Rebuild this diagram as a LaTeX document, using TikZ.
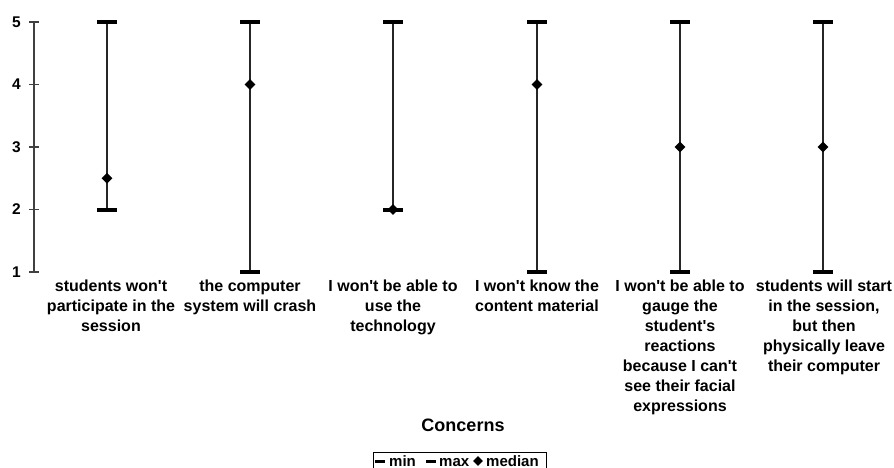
\documentclass[tikz,border=0pt]{standalone}
\usepackage{fontspec}
\setmainfont{Liberation Sans}
\newfontfamily\lsans{Liberation Sans}
\usetikzlibrary{shapes.geometric}
\begin{document}
\begin{tikzpicture}[x=1pt,y=-1pt,
  axisline/.style={draw=black!75, line width=1.4pt},
  barline/.style={draw=black!85, line width=1.4pt},
  capline/.style={draw=black, line width=4pt},
  med/.style={diamond, fill=black, draw=none, inner sep=0pt, minimum size=11pt},
  ticklab/.style={font=\lsans\bfseries\fontsize{15.5}{17}\selectfont, anchor=east, inner sep=0pt},
  catlab/.style={font=\lsans\bfseries\fontsize{16}{20}\selectfont, align=center, anchor=north, inner sep=0pt},
  titlelab/.style={font=\lsans\bfseries\fontsize{18}{20}\selectfont, inner sep=0pt},
  leglab/.style={font=\lsans\bfseries\fontsize{15}{17}\selectfont, anchor=base west, inner sep=0pt},
  legdash/.style={draw=black, line width=3pt}]
\useasboundingbox (0,0) rectangle (894,468);
\fill[white] (0,0) rectangle (894,468);

% axis
\coordinate (atop) at (34,22);
\coordinate (abot) at (34,272);
\draw[axisline] (atop) -- (abot);
\foreach \v/\yy in {5/22,4/84.5,3/147,2/209.5,1/272}{
  \coordinate (tk\v) at (34,\yy);
  \draw[axisline] ([xshift=-5pt]tk\v) -- ([xshift=5pt]tk\v);
  \node[ticklab] (tl\v) at (21,\yy) {\v};
}

% bars: index / x / min y / median y
\foreach \i/\xx/\mn/\md in {1/107/209.5/178.25, 2/250/272/84.5, 3/393/209.5/209.5, 4/537/272/84.5, 5/680/272/147, 6/823/272/147}{
  \coordinate (mx\i) at (\xx,22);
  \coordinate (mn\i) at (\xx,\mn);
  \draw[barline] (mx\i) -- (mn\i);
  \draw[capline] ([xshift=-10pt]mx\i) -- ([xshift=10pt]mx\i);
  \draw[capline] ([xshift=-10pt]mn\i) -- ([xshift=10pt]mn\i);
  \node[med] (md\i) at (\xx,\md) {};
}

% category labels
\node[catlab] (c1) at (111,280) {students won't\\participate in the\\session};
\node[catlab] (c2) at (250,280) {the computer\\system will crash};
\node[catlab] (c3) at (393,280) {I won't be able to\\use the\\technology};
\node[catlab] (c4) at (537,280) {I won't know the\\content material};
\node[catlab] (c5) at (680,280) {I won't be able to\\gauge the\\student's\\reactions\\because I can't\\see their facial\\expressions};
\node[catlab] (c6) at (824,280) {students will start\\in the session,\\but then\\physically leave\\their computer};

% title
\node[titlelab] (title) at (463,425) {Concerns};

% legend
\draw[black, line width=1pt] (373,452) rectangle (546,480);
\coordinate (d1a) at (375,461); \coordinate (d1b) at (385,461);
\draw[legdash] (d1a) -- (d1b);
\node[leglab] (lmin) at (389,466) {min};
\coordinate (d2a) at (426,461); \coordinate (d2b) at (436,461);
\draw[legdash] (d2a) -- (d2b);
\node[leglab] (lmax) at (439,466) {max};
\node[med, minimum size=10pt] (ldia) at (478,461) {};
\node[leglab] (lmed) at (486,466) {median};
\end{tikzpicture}
\end{document}
